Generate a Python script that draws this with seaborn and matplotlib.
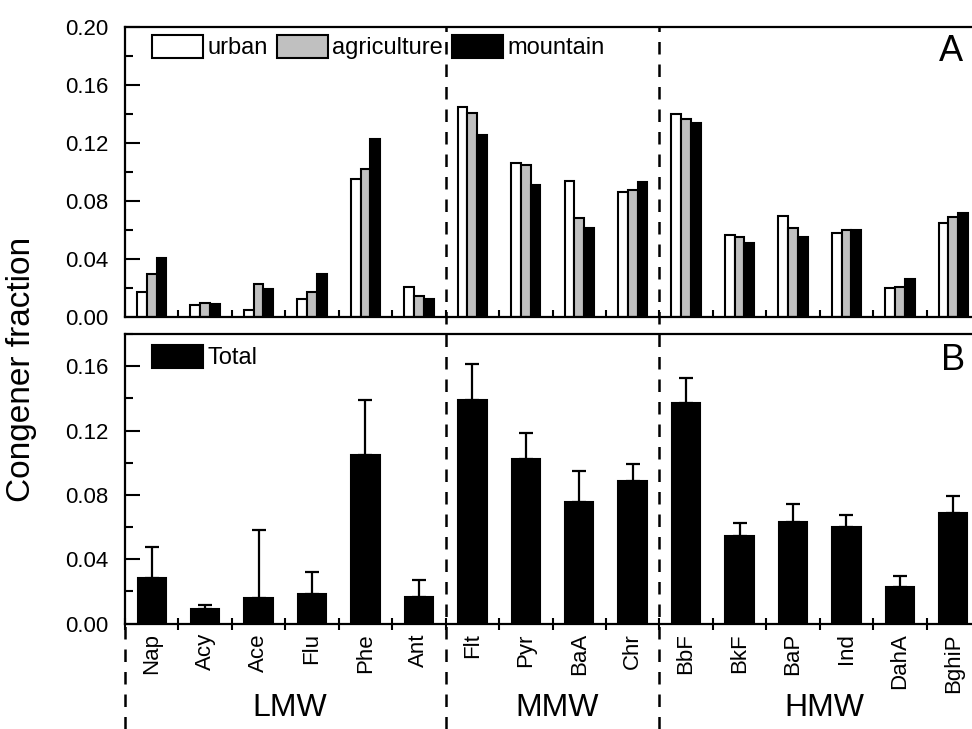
import numpy as np
import pandas as pd
import matplotlib
matplotlib.use("Agg")
import matplotlib.pyplot as plt
import matplotlib.transforms as mtransforms
from matplotlib.lines import Line2D
from matplotlib.ticker import MultipleLocator, FixedLocator
import seaborn as sns

categories = ["Nap", "Acy", "Ace", "Flu", "Phe", "Ant", "Flt", "Pyr", "BaA", "Chr",
              "BbF", "BkF", "BaP", "Ind", "DahA", "BghiP"]
urban = [0.0175, 0.0083, 0.0048, 0.0124, 0.0953, 0.0205, 0.1451, 0.1060, 0.0935, 0.0861,
         0.1402, 0.0564, 0.0700, 0.0582, 0.0200, 0.0650]
agriculture = [0.0295, 0.0095, 0.0228, 0.0175, 0.1022, 0.0147, 0.1405, 0.1045, 0.0686, 0.0873,
               0.1368, 0.0553, 0.0615, 0.0603, 0.0207, 0.0693]
mountain = [0.0410, 0.0090, 0.0196, 0.0297, 0.1230, 0.0124, 0.1253, 0.0912, 0.0613, 0.0931,
            0.1340, 0.0511, 0.0550, 0.0599, 0.0265, 0.0720]
total = [0.0284, 0.0088, 0.0160, 0.0185, 0.1046, 0.0162, 0.1388, 0.1021, 0.0756, 0.0887,
         0.1371, 0.0547, 0.0634, 0.0597, 0.0224, 0.0684]
total_err = [0.0193, 0.0026, 0.0424, 0.0136, 0.0342, 0.0108, 0.0223, 0.0162, 0.0193, 0.0107,
             0.0157, 0.0075, 0.0108, 0.0076, 0.0070, 0.0109]
groups = ["LMW", "MMW", "HMW"]
group_sizes = [6, 4, 6]
sites = ["urban", "agriculture", "mountain"]
site_colors = ["white", "#c0c0c0", "black"]

sns.set_style("ticks")
plt.rcParams["font.family"] = ["Liberation Sans", "DejaVu Sans"]
plt.rcParams["text.color"] = "black"
plt.rcParams["axes.labelcolor"] = "black"
plt.rcParams["xtick.color"] = "black"
plt.rcParams["ytick.color"] = "black"
plt.rcParams["axes.edgecolor"] = "black"

fig = plt.figure(figsize=(9.72, 7.29), dpi=100)
W, H = 972.0, 729.0
ax1 = fig.add_axes([125 / W, 1 - 317 / H, 855 / W, 290 / H])
ax2 = fig.add_axes([125 / W, 1 - 623.5 / H, 855 / W, 289.5 / H])

df_top = pd.DataFrame({
    "category": categories * 3,
    "site": sum([[s] * len(categories) for s in sites], []),
    "value": urban + agriculture + mountain,
})
sns.barplot(data=df_top, x="category", y="value", hue="site", order=categories,
            hue_order=sites, palette=site_colors, width=0.55, gap=0,
            edgecolor="black", linewidth=1.5, errorbar=None, ax=ax1, saturation=1)

df_bot = pd.DataFrame({"category": categories, "series": ["Total"] * len(categories),
                       "value": total})
sns.barplot(data=df_bot, x="category", y="value", hue="series", order=categories,
            palette=["black"], width=0.53, edgecolor="black", linewidth=1.5,
            errorbar=None, ax=ax2, saturation=1)
xpos = np.arange(len(categories))
ax2.errorbar(xpos, total, yerr=[np.zeros(len(total)), total_err], fmt="none",
             ecolor="black", elinewidth=1.6, capsize=5, capthick=1.6, zorder=3)

for ax, ymax in [(ax1, 0.20), (ax2, 0.18)]:
    ax.set_xlim(-0.5, len(categories) - 0.5)
    ax.set_ylim(0, ymax)
    ax.set_xlabel("")
    ax.set_ylabel("")
    ax.yaxis.set_major_locator(MultipleLocator(0.04))
    ax.yaxis.set_minor_locator(MultipleLocator(0.02))
    ax.yaxis.set_major_formatter(matplotlib.ticker.FormatStrFormatter("%.2f"))
    ax.tick_params(axis="y", which="major", direction="in", length=11, width=1.5,
                   labelsize=16, pad=12)
    ax.tick_params(axis="y", which="minor", direction="in", length=6, width=1.5)
    ax.xaxis.set_minor_locator(FixedLocator(np.arange(-0.5, len(categories), 1.0)))
    ax.tick_params(axis="x", which="minor", direction="in", length=5, width=1.5)
    for sp in ax.spines.values():
        sp.set_linewidth(1.6)
        sp.set_visible(True)
        sp.set_color("black")

ax1.set_yticks(np.arange(0, 0.2001, 0.04))
ax2.set_yticks(np.arange(0, 0.1601, 0.04))
ax1.tick_params(axis="x", which="major", length=0, labelbottom=False)
ax2.tick_params(axis="x", which="major", length=0, pad=7, labelsize=16)
ax2.tick_params(axis="x", which="minor", direction="inout", length=8)
ax2.set_xticks(xpos)
ax2.set_xticklabels(categories, rotation=90, va="top", ha="center")

leg_kw = dict(frameon=False, fontsize=17, handlelength=2.16, handleheight=1.1,
              handletextpad=0.2, columnspacing=0.38, borderpad=0, borderaxespad=0)
h1, l1 = ax1.get_legend_handles_labels()
ax1.legend(h1, l1, loc="upper left", bbox_to_anchor=(0.031, 0.972), ncol=3, **leg_kw)
h2, l2 = ax2.get_legend_handles_labels()
ax2.legend(h2, l2, loc="upper left", bbox_to_anchor=(0.031, 0.962), **leg_kw)

ax1.text(0.966, 0.917, "A", transform=ax1.transAxes, fontsize=26, ha="center", va="center")
ax2.text(0.969, 0.910, "B", transform=ax2.transAxes, fontsize=26, ha="center", va="center")

# dashed group separators
trans = mtransforms.blended_transform_factory(ax2.transData, fig.transFigure)
bounds = np.cumsum(group_sizes)[:-1] - 0.5
for b in bounds:
    fig.add_artist(Line2D([b, b], [0, 1 - 27 / H], transform=trans, color="black",
                          lw=1.8, ls=(0, (5, 4)), zorder=5))
fig.add_artist(Line2D([-0.5, -0.5], [0, 1 - 623.5 / H], transform=trans, color="black",
                      lw=1.8, ls=(0, (5, 4)), zorder=5))

# group labels
start = -0.5
for g, n in zip(groups, group_sizes):
    ax2.text(start + n / 2.0 + 0.08, 1 - 708 / H, g, transform=trans, fontsize=23,
             ha="center", va="center")
    start += n

fig.text(22 / W, 1 - 369 / H, "Congener fraction", rotation=90, fontsize=24,
         ha="center", va="center")

fig.savefig("out.png", dpi=100)
